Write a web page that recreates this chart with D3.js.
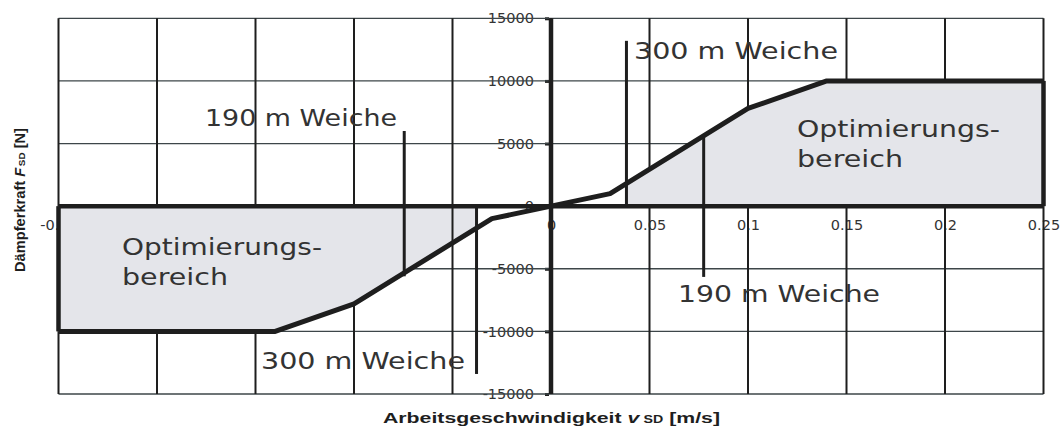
<!DOCTYPE html>
<html><head><meta charset="utf-8">
<script src="https://cdn.jsdelivr.net/npm/d3@7"></script>
<style>html,body{margin:0;padding:0;background:#fff;}svg{display:block;}</style>
</head><body>
<svg id="chart" width="1063" height="427"></svg>
<script>
// ---- data ----
const curveV = [-0.25, -0.14, -0.1, -0.03, 0, 0.03, 0.1, 0.14, 0.25];
const curveF = [-10000, -10000, -7800, -1000, 0, 1000, 7800, 10000, 10000];
const xTicks = [-0.25, -0.2, -0.15, -0.1, -0.05, 0, 0.05, 0.1, 0.15, 0.2, 0.25];
const xTickLabels = ["-0.25", "-0.2", "-0.15", "-0.1", "-0.05", "0", "0.05", "0.1", "0.15", "0.2", "0.25"];
const yTicks = [15000, 10000, 5000, 0, -5000, -10000, -15000];
const yTickLabels = ["15000", "10000", "5000", "0", "-5000", "-10000", "-15000"];
const fillRangesV = [[-0.25, -0.0378], [0.0383, 0.25]];
const markerLabels = ["300 m Weiche", "190 m Weiche", "300 m Weiche", "190 m Weiche"];
const markerV = [0.0383, -0.0745, -0.0378, 0.0775];
const markerTopF = [13200, 6000, 0, 5750];
const markerBottomF = [0, -5600, -13400, -5650];
const regionLabels = [["Optimierungs-", "bereich"], ["Optimierungs-", "bereich"]];
const xTitle = ["Arbeitsgeschwindigkeit ", "v", "SD", " [m/s]"];
const yTitle = ["Dämpferkraft ", "F", "SD", " [N]"];

// ---- layout ----
const svg = d3.select("#chart");
const x = d3.scaleLinear().domain([-0.25, 0.25]).range([58.5, 1043.5]);
const y = d3.scaleLinear().domain([-15000, 15000]).range([394, 18.3]);
const ink = "#1e1e1e";
const textCol = "#333333";
const fillCol = "#e4e5ea";
const markerTextPos = [
  {x: 634, y: 59, w: 204, anchor: "start"},
  {x: 397, y: 126, w: 192, anchor: "end"},
  {x: 261, y: 369, w: 204, anchor: "start"},
  {x: 678, y: 302, w: 202, anchor: "start"}
];
const regionTextPos = [
  {x: 122, y: 255, w: [200, 106]},
  {x: 797, y: 137, w: [203, 106]}
];

function fit(sel, w) {
  sel.attr("textLength", w).attr("lengthAdjust", "spacingAndGlyphs");
}
function curveAt(v) {
  for (let i = 0; i < curveV.length - 1; i++) {
    if (v >= curveV[i] && v <= curveV[i + 1]) {
      const t = (v - curveV[i]) / (curveV[i + 1] - curveV[i]);
      return curveF[i] + t * (curveF[i + 1] - curveF[i]);
    }
  }
  return 0;
}

// ---- tick labels (under everything) ----
const yAxis = d3.axisLeft(y).tickValues(yTicks).tickSize(4).tickPadding(8)
  .tickFormat((d, i) => yTickLabels[i]);
const gy = svg.append("g").attr("transform", `translate(${x(0) - 2},0)`).call(yAxis);
gy.select(".domain").remove();
gy.selectAll("line").attr("stroke", ink).attr("stroke-width", 3);
gy.selectAll("text").attr("font-family", "DejaVu Sans").attr("font-size", 14.5)
  .attr("fill", textCol).attr("x", -15);

const xAxis = d3.axisBottom(x).tickValues(xTicks).tickSize(0).tickPadding(13.5)
  .tickFormat((d, i) => xTickLabels[i]);
const gx = svg.append("g").attr("transform", `translate(0,${y(0)})`).call(xAxis);
gx.select(".domain").remove();
gx.selectAll("text").attr("font-family", "DejaVu Sans").attr("font-size", 14.5)
  .attr("fill", textCol);

// ---- gridlines ----
svg.append("g").selectAll("line").data(yTicks).join("line")
  .attr("x1", x(-0.25)).attr("x2", x(0.25))
  .attr("y1", d => y(d)).attr("y2", d => y(d))
  .attr("stroke", "#3d4649").attr("stroke-width", 1.3);
svg.append("g").selectAll("line").data(xTicks).join("line")
  .attr("x1", d => x(d)).attr("x2", d => x(d))
  .attr("y1", y(15000)).attr("y2", y(-15000))
  .attr("stroke", ink).attr("stroke-width", 2);

// ---- fill regions ----
fillRangesV.forEach(([a, b]) => {
  const vs = [a, ...curveV.filter(v => v > a && v < b), b];
  const area = d3.area().x(d => x(d)).y0(y(0)).y1(d => y(curveAt(d)));
  svg.append("path").attr("d", area(vs)).attr("fill", fillCol);
});

// gridline visible through the fill
svg.append("line").attr("x1", x(-0.05)).attr("x2", x(-0.05))
  .attr("y1", y(0)).attr("y2", y(curveAt(-0.05)))
  .attr("stroke", ink).attr("stroke-width", 2);

// ---- thick lines ----
svg.append("line").attr("x1", x(-0.25)).attr("x2", x(0.25))
  .attr("y1", y(0)).attr("y2", y(0)).attr("stroke", ink).attr("stroke-width", 4.5);
svg.append("line").attr("x1", x(0)).attr("x2", x(0))
  .attr("y1", y(15000)).attr("y2", y(-15000)).attr("stroke", ink).attr("stroke-width", 4.5);
svg.append("line").attr("x1", x(-0.25)).attr("x2", x(-0.25))
  .attr("y1", y(0)).attr("y2", y(curveF[0])).attr("stroke", ink).attr("stroke-width", 4.5);
svg.append("line").attr("x1", x(0.25)).attr("x2", x(0.25))
  .attr("y1", y(0)).attr("y2", y(curveF[curveF.length - 1])).attr("stroke", ink).attr("stroke-width", 4.5);
const line = d3.line().x((d, i) => x(curveV[i])).y(d => y(d));
svg.append("path").attr("d", line(curveF)).attr("fill", "none")
  .attr("stroke", ink).attr("stroke-width", 5).attr("stroke-linejoin", "bevel");

// ---- markers ----
markerV.forEach((v, i) => {
  svg.append("line").attr("x1", x(v)).attr("x2", x(v))
    .attr("y1", y(markerTopF[i])).attr("y2", y(markerBottomF[i]))
    .attr("stroke", ink).attr("stroke-width", 3);
  const p = markerTextPos[i];
  svg.append("text").attr("x", p.x).attr("y", p.y).attr("text-anchor", p.anchor)
    .attr("font-family", "DejaVu Sans").attr("font-size", 22.5).attr("fill", textCol)
    .text(markerLabels[i]).call(fit, p.w);
});
regionLabels.forEach((lines, i) => {
  const p = regionTextPos[i];
  lines.forEach((t, j) => {
    svg.append("text").attr("x", p.x).attr("y", p.y + j * 30)
      .attr("font-family", "DejaVu Sans").attr("font-size", 22.5).attr("fill", textCol)
      .text(t).call(fit, p.w[j]);
  });
});

// ---- axis titles ----
const xt = svg.append("text").attr("x", 383).attr("y", 423)
  .attr("font-family", "Liberation Sans, Arial, sans-serif").attr("font-weight", "bold")
  .attr("font-size", 15).attr("fill", ink);
xt.append("tspan").text(xTitle[0]);
xt.append("tspan").attr("font-style", "italic").text(xTitle[1]);
xt.append("tspan").attr("font-size", 10).attr("dx", 3).text(xTitle[2]);
xt.append("tspan").text(xTitle[3]);
xt.call(fit, 337);

const yt = svg.append("text").attr("transform", "translate(25,272) rotate(-90)")
  .attr("font-family", "Liberation Sans, Arial, sans-serif").attr("font-weight", "bold")
  .attr("font-size", 14).attr("fill", ink);
yt.append("tspan").text(yTitle[0]);
yt.append("tspan").attr("font-style", "italic").text(yTitle[1]);
yt.append("tspan").attr("font-size", 9.5).attr("dx", 1.5).text(yTitle[2]);
yt.append("tspan").text(yTitle[3]);
yt.call(fit, 144);
</script>
</body></html>
